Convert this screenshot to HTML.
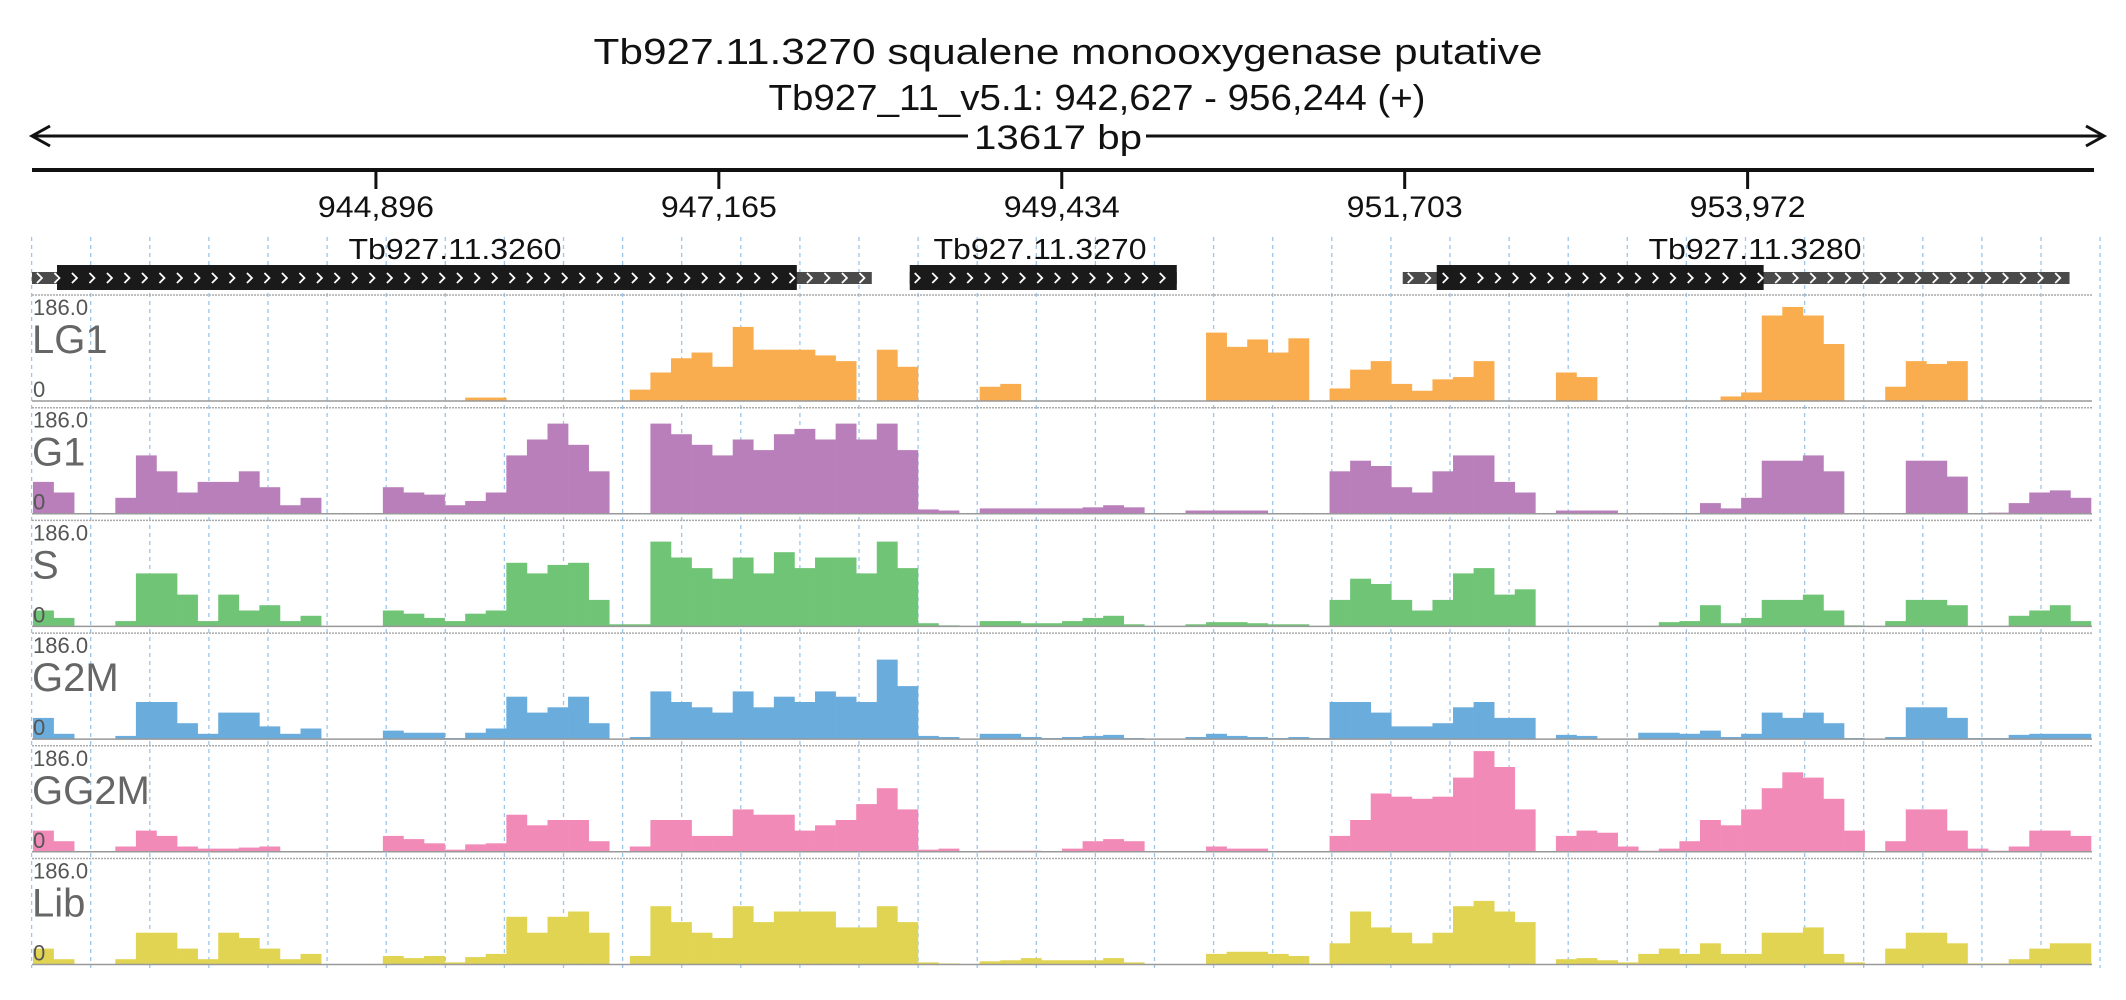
<!DOCTYPE html>
<html><head><meta charset="utf-8"><style>
html,body{margin:0;padding:0;background:#fff;}
svg{display:block;font-family:"Liberation Sans",sans-serif;}
</style></head><body>
<svg id="chart" width="2126" height="1000" viewBox="0 0 2126 1000" xmlns="http://www.w3.org/2000/svg">
<text x="1068" y="64" text-anchor="middle" font-size="36" textLength="949" lengthAdjust="spacingAndGlyphs" fill="#111">Tb927.11.3270  squalene monooxygenase  putative</text>
<text x="1097" y="110" text-anchor="middle" font-size="36" textLength="657" lengthAdjust="spacingAndGlyphs" fill="#111">Tb927_11_v5.1: 942,627 - 956,244 (+)</text>
<g stroke="#111" stroke-width="3" fill="none">
<line x1="32" y1="136" x2="2104" y2="136"/>
<polyline points="50,126 32,136 50,146"/>
<polyline points="2086,126 2104,136 2086,146"/>
</g>
<rect x="968" y="118" width="178" height="36" fill="#fff"/>
<text x="1058" y="149" text-anchor="middle" font-size="34" textLength="168" lengthAdjust="spacingAndGlyphs" fill="#111">13617 bp</text>
<line x1="32" y1="170" x2="2094" y2="170" stroke="#111" stroke-width="4"/>
<g id="xticks"></g>
<g id="grid"></g>
<g id="genes"></g>
<g id="tracks"></g>
</svg>
<script>
const NS='http://www.w3.org/2000/svg';
const START=942627, END=956244;
const X0=33, X1=2091;
const tickValues=[944896,947165,949434,951703,953972];
const tickLabels=['944,896','947,165','949,434','951,703','953,972'];
const geneNames=['Tb927.11.3260','Tb927.11.3270','Tb927.11.3280'];
const geneStarts=[942620,948428,951690];
const geneEnds=[948177,950195,956102];
const cdsStarts=[942786,948428,951915];
const cdsEnds=[947681,950195,954078];
const trackNames=['LG1','G1','S','G2M','GG2M','Lib'];
const trackColors=['#f9ad4e','#b97fbb','#70c476','#6aacdc','#f28ab8','#e0d452'];
const YMAX=186;
const lg1=[0,0,0,0,0,0,0,0,0,0,0,0,0,0,0,0,0,0,0,0,0,6,6,0,0,0,0,0,0,20,50,75,85,60,130,90,90,90,80,70,0,90,60,0,0,0,25,30,0,0,0,0,0,0,0,0,0,120,95,108,85,110,0,22,55,70,30,18,38,42,70,0,0,0,50,42,0,0,0,0,0,0,8,15,150,165,150,100,0,0,25,70,65,70,0,0,0,0,0,0];
const g1=[.3,.2,0,0,.15,.55,.4,.2,.3,.3,.4,.25,.08,.15,0,0,0,.25,.2,.18,.08,.12,.2,.55,.7,.85,.65,.4,0,0,.85,.75,.65,.55,.7,.6,.75,.8,.7,.85,.7,.85,.6,.04,.03,0,.05,.05,.05,.05,.05,.06,.08,.06,0,0,.03,.03,.03,.03,0,0,0,.4,.5,.45,.25,.2,.4,.55,.55,.3,.2,0,.03,.03,.03,0,0,0,0,.1,.05,.15,.5,.5,.55,.4,0,0,0,.5,.5,.35,0,.01,.1,.2,.22,.15];
const sPh=[.15,.08,0,0,.05,.5,.5,.3,.05,.3,.15,.2,.05,.1,0,0,0,.15,.12,.08,.05,.12,.15,.6,.5,.58,.6,.25,.02,.02,.8,.65,.55,.45,.65,.5,.7,.55,.65,.65,.5,.8,.55,.03,.01,0,.05,.05,.03,.03,.05,.08,.1,.02,0,0,.02,.04,.04,.03,.02,.02,0,.25,.45,.4,.25,.15,.25,.5,.55,.3,.35,0,0,0,0,0,0,.04,.05,.2,.03,.08,.25,.25,.3,.15,.01,0,.05,.25,.25,.2,0,0,.1,.15,.2,.05];
const g2m=[.2,.05,0,0,.03,.35,.35,.15,.05,.25,.25,.12,.05,.1,0,0,0,.08,.06,.06,.01,.06,.1,.4,.25,.3,.4,.15,0,.02,.45,.35,.3,.25,.45,.3,.4,.35,.45,.4,.35,.75,.5,.03,.02,0,.05,.05,.02,.01,.02,.03,.04,.01,0,0,.02,.05,.03,.02,.01,.02,.01,.35,.35,.25,.12,.12,.15,.3,.35,.2,.2,0,.04,.03,0,0,.06,.06,.05,.08,.02,.05,.25,.2,.25,.15,.01,0,.02,.3,.3,.2,.01,.01,.04,.05,.05,.05];
const gg2m=[.2,.1,0,0,.05,.2,.15,.05,.03,.03,.04,.05,0,0,0,0,0,.15,.12,.08,.02,.07,.08,.35,.25,.3,.3,.1,0,.05,.3,.3,.15,.15,.4,.35,.35,.2,.25,.3,.45,.6,.4,.02,.03,0,.01,.01,.01,0,.03,.1,.12,.1,0,0,0,.05,.03,.03,0,0,0,.15,.3,.55,.52,.5,.52,.7,.95,.8,.4,0,.15,.2,.18,.05,.01,.03,.1,.3,.25,.4,.6,.75,.7,.5,.2,0,.1,.4,.4,.2,.03,.01,.05,.2,.2,.15];
const lib=[.15,.05,0,0,.05,.3,.3,.15,.05,.3,.25,.15,.05,.1,0,0,0,.08,.06,.08,.02,.07,.1,.45,.3,.45,.5,.3,0,.08,.55,.4,.3,.25,.55,.4,.5,.5,.5,.35,.35,.55,.4,.02,.01,0,.03,.04,.06,.04,.04,.04,.06,.02,0,0,0,.1,.12,.12,.1,.08,.01,.2,.5,.35,.3,.2,.3,.55,.6,.5,.4,0,.05,.06,.04,.02,.1,.15,.1,.2,.1,.1,.3,.3,.35,.1,.02,0,.15,.3,.3,.2,.01,.01,.05,.15,.2,.2];

function xScale(bp){return X0+(bp-START)*(X1-X0)/(END-START);}
function mk(tag,attrs,parent){const e=document.createElementNS(NS,tag);for(const k in attrs)e.setAttribute(k,attrs[k]);parent.appendChild(e);return e;}

const xt=document.getElementById('xticks');
tickValues.forEach((v,i)=>{
  const x=xScale(v);
  const t=mk('line',{x1:x,y1:170,x2:x,y2:189,stroke:'#111','stroke-width':3},xt);
  
  
  const l=mk('text',{x:x,y:217,'text-anchor':'middle','font-size':30,textLength:116,lengthAdjust:'spacingAndGlyphs',fill:'#111'},xt);
  l.textContent=tickLabels[i];
  
  
});
const gr=document.getElementById('grid');
for(let k=0;k<=35;k++){
  const x=31.6+59.1*k;
  const g=mk('line',{x1:x,y1:237,x2:x,y2:968,stroke:'#9cc6ea','stroke-width':1.3,'stroke-dasharray':'4,4'},gr);
  
  
}
const labelCenters=[455,1040,1755];
const gn=document.getElementById('genes');
geneNames.forEach((n,i)=>{
  const a=Math.max(X0-2,xScale(geneStarts[i])), b=xScale(geneEnds[i]);
  const c=xScale(cdsStarts[i]), d=xScale(cdsEnds[i]);
  const u=mk('rect',{x:a,y:272,width:b-a,height:12,fill:'#4a4a4a'},gn);
  
  
  const r=mk('rect',{x:c,y:265,width:d-c,height:25,fill:'#1a1a1a'},gn);
  
  
  for(let x=a+5;x<b-6;x+=17.5){
    mk('polyline',{points:`${x},${273} ${x+5},${278} ${x},${283}`,stroke:'#fff','stroke-width':1.8,fill:'none'},gn);
  }
  const t=mk('text',{x:labelCenters[i],y:259,'text-anchor':'middle','font-size':29,textLength:213,lengthAdjust:'spacingAndGlyphs',fill:'#111'},gn);
  t.textContent=n;
  
  
});
const tr=document.getElementById('tracks');
const series=[lg1,g1.map(v=>v*YMAX),sPh.map(v=>v*YMAX),g2m.map(v=>v*YMAX),gg2m.map(v=>v*YMAX),lib.map(v=>v*YMAX)];
trackNames.forEach((name,ti)=>{
  const top=295+112.7*ti, base=top+106, h=base-top;
  const g=mk('g',{},tr);
  
  
  mk('line',{x1:32,y1:top,x2:2092,y2:top,stroke:'#aaa','stroke-width':1.5,'stroke-dasharray':'2,1'},g);
  const vals=series[ti];
  const n=vals.length, bw=(END-START)/n;
  vals.forEach((v,i)=>{
    if(v<=0)return;
    const x=xScale(START+i*bw), x2=xScale(START+(i+1)*bw);
    const vh=Math.min(v,YMAX)/YMAX*h;
    const b=mk('rect',{x:x,y:base-vh,width:x2-x+0.3,height:vh,fill:trackColors[ti]},g);
    
    
  });
  mk('line',{x1:32,y1:base,x2:2092,y2:base,stroke:'#999','stroke-width':1.5},g);
  const m=mk('text',{x:33,y:top+20,'font-size':22,fill:'#555'},g);m.textContent='186.0';
  
  
  const nm=mk('text',{x:32,y:top+58,'font-size':40,fill:'#666'},g);nm.textContent=name;
  
  
  const z=mk('text',{x:33,y:base-4,'font-size':22,fill:'#555'},g);z.textContent='0';
  
  
});
</script>
</body></html>
